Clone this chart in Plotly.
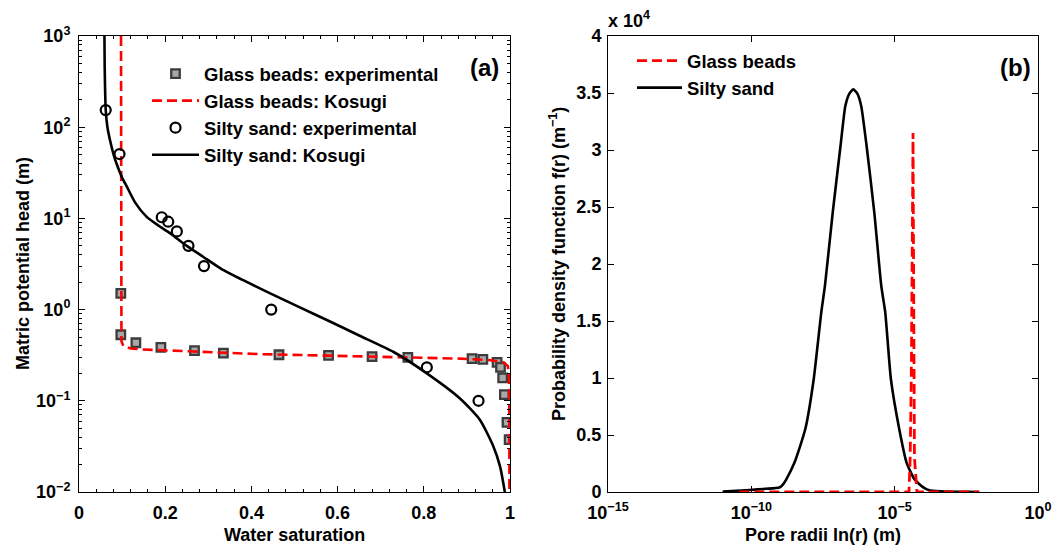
import plotly.graph_objects as go

W, H = 1062, 554

# ---------------- data: panel (a) ----------------
gb_exp_sat = [0.097, 0.097, 0.132, 0.19, 0.268, 0.335, 0.464, 0.579, 0.68, 0.763,
              0.912, 0.937, 0.970, 0.978, 0.983, 0.987, 0.993, 0.998]
gb_exp_head = [1.51, 0.53, 0.433, 0.385, 0.355, 0.334, 0.32, 0.315, 0.305, 0.30,
               0.29, 0.285, 0.264, 0.233, 0.178, 0.117, 0.058, 0.0375]

gb_kos_sat = [0.0975, 0.0975, 0.0985, 0.103, 0.12, 0.145, 0.265, 0.42, 0.575, 0.75,
              0.884, 0.95, 0.985, 0.995, 0.998, 0.9985, 0.9987]
gb_kos_head = [1000, 1.0, 0.45, 0.40, 0.375, 0.366, 0.345, 0.325, 0.313, 0.30,
               0.29, 0.28, 0.265, 0.24, 0.18, 0.05, 0.01]

ss_exp_sat = [0.062, 0.094, 0.192, 0.207, 0.227, 0.254, 0.29, 0.446, 0.807, 0.927]
ss_exp_head = [154, 50.8, 10.3, 9.2, 7.2, 5.0, 3.0, 1.0, 0.233, 0.10]

ss_kos_sat = [0.059, 0.0596, 0.062, 0.066, 0.072, 0.080, 0.087, 0.100, 0.111, 0.130,
              0.157, 0.185, 0.211, 0.25, 0.288, 0.33, 0.381, 0.446, 0.51, 0.575,
              0.65, 0.729, 0.807, 0.884, 0.93, 0.961, 0.977, 0.988]
ss_kos_head = [1000, 457, 155, 100, 72, 50.8, 40, 28, 22.3, 15,
               10.4, 8.3, 6.9, 5.0, 3.8, 2.8, 2.1, 1.49, 1.07, 0.77,
               0.52, 0.345, 0.20, 0.106, 0.062, 0.032, 0.019, 0.01]

# ---------------- data: panel (b) ----------------
ss_r = [1.0e-11, 8.7e-11, 3.2e-10, 9.5e-10, 1.26e-9, 1.66e-9, 3.2e-9, 7.6e-9, 1.5e-8,
        2.75e-8, 3.7e-8, 6.9e-8, 1.29e-7, 1.9e-7, 2.63e-7, 3.6e-7, 5.0e-7, 6.8e-7,
        1.05e-6, 1.95e-6, 3.4e-6, 4.7e-6, 7.4e-6, 1.45e-5, 2.6e-5, 4.9e-5, 1.0e-4,
        1.6e-4, 4.0e-4, 8.0e-4, 3.2e-3, 8.9e-3]
ss_f = [30, 180, 280, 390, 650, 1110, 2580, 5500, 9890,
        15740, 18100, 24500, 30350, 33860, 34950, 35320, 34950, 33860,
        30350, 24500, 18100, 15740, 9890, 5500, 2580, 1110, 400,
        150, 60, 30, 10, 0]

gb_r = [3.8e-11, 1.0e-5, 2.5e-5, 3.16e-5, 3.47e-5, 3.8e-5, 4.07e-5, 4.37e-5,
        4.47e-5, 4.57e-5, 4.9e-5, 6.0e-5, 8.9e-3]
gb_f = [0, 0, 0, 0, 3000, 10000, 20000, 31500,
        25000, 12000, 3000, 0, 0]

# tick labels
sat_ticks = [0, 0.2, 0.4, 0.6, 0.8, 1]
sat_ticktext = ["0", "0.2", "0.4", "0.6", "0.8", "1"]
head_ticks = [1e-2, 1e-1, 1e0, 1e1, 1e2, 1e3]
head_ticktext = ["10<sup>\u22122</sup>", "10<sup>\u22121</sup>", "10<sup>0</sup>",
                 "10<sup>1</sup>", "10<sup>2</sup>", "10<sup>3</sup>"]
r_ticks = [1e-15, 1e-10, 1e-5, 1]
r_ticktext = ["10<sup>\u221215</sup>", "10<sup>\u221210</sup>", "10<sup>\u22125</sup>", "10<sup>0</sup>"]
f_ticks = [0, 5000, 10000, 15000, 20000, 25000, 30000, 35000, 40000]
f_ticktext = ["0", "0.5", "1", "1.5", "2", "2.5", "3", "3.5", "4"]

FONT = "Liberation Sans"
RED = "#ff0000"
FS = 18


def px(x):
    return x / W


def py(y):
    return 1 - y / H


fig = go.Figure()

# panel (a)
fig.add_trace(go.Scatter(x=gb_exp_sat, y=gb_exp_head, mode="markers",
                         name="Glass beads: experimental",
                         marker=dict(symbol="square", size=8.5, color="#a8a8a8",
                                     line=dict(color="#3c3c3c", width=2.3)),
                         xaxis="x", yaxis="y", legend="legend"))
fig.add_trace(go.Scatter(x=gb_kos_sat, y=gb_kos_head, mode="lines",
                         name="Glass beads: Kosugi",
                         line=dict(color=RED, width=2.6, dash="10px,5px"),
                         xaxis="x", yaxis="y", legend="legend"))
fig.add_trace(go.Scatter(x=ss_exp_sat, y=ss_exp_head, mode="markers",
                         name="Silty sand: experimental",
                         marker=dict(symbol="circle-open", size=10, color="black",
                                     line=dict(color="black", width=2.2)),
                         xaxis="x", yaxis="y", legend="legend"))
fig.add_trace(go.Scatter(x=ss_kos_sat, y=ss_kos_head, mode="lines",
                         name="Silty sand: Kosugi",
                         line=dict(color="black", width=2.6, shape="spline", smoothing=0.6),
                         xaxis="x", yaxis="y", legend="legend"))

# panel (b)
fig.add_trace(go.Scatter(x=ss_r, y=ss_f, mode="lines", name="Silty sand",
                         line=dict(color="black", width=2.6, shape="spline", smoothing=0.5),
                         xaxis="x2", yaxis="y2", legend="legend2"))
fig.add_trace(go.Scatter(x=gb_r, y=gb_f, mode="lines", name="Glass beads",
                         line=dict(color=RED, width=2.8, dash="10px,5px"),
                         xaxis="x2", yaxis="y2", legend="legend2"))

tickfont = dict(family=FONT, size=FS, color="black", weight="bold")
axis_common = dict(showline=True, linecolor="black", linewidth=1, mirror="ticks",
                   ticks="inside", ticklen=6, tickcolor="black", tickwidth=1,
                   showgrid=False, zeroline=False, tickfont=tickfont,
                   automargin=False, tickmode="array")

minor_head = [k * 10.0 ** e for e in range(-2, 3) for k in range(2, 10)]

legend_font = dict(family=FONT, size=18.5, color="black", weight="bold")

fig.update_layout(
    width=W, height=H,
    margin=dict(l=0, r=0, t=0, b=0),
    paper_bgcolor="white", plot_bgcolor="white",
    font=dict(family=FONT, size=FS, color="black"),
    xaxis=dict(domain=[px(79), px(510)], range=[0, 1], anchor="y",
               tickvals=sat_ticks, ticktext=sat_ticktext, ticklabelstandoff=4,
               minor=dict(ticks="inside", ticklen=3, tickcolor="black", dtick=0.04, tick0=0),
               **axis_common),
    yaxis=dict(domain=[py(492), py(36)], type="log", range=[-2, 3], anchor="x",
               tickvals=head_ticks, ticktext=head_ticktext, ticklabelstandoff=4,
               minor=dict(ticks="inside", ticklen=3, tickcolor="black",
                          tickmode="array", tickvals=minor_head),
               **axis_common),
    xaxis2=dict(domain=[px(608), px(1038)], type="log", range=[-15, 0], anchor="y2",
                tickvals=r_ticks, ticktext=r_ticktext, layer="below traces",
                ticklabelstandoff=4, **axis_common),
    yaxis2=dict(domain=[py(492), py(36)], range=[0, 40000], anchor="x2",
                tickvals=f_ticks, ticktext=f_ticktext, ticklabelstandoff=2,
                **axis_common),
    legend=dict(x=px(147), y=py(55), xanchor="left", yanchor="top",
                bgcolor="rgba(0,0,0,0)", borderwidth=0, itemwidth=47,
                traceorder="normal", font=legend_font),
    legend2=dict(x=px(632), y=py(42), xanchor="left", yanchor="top",
                 bgcolor="rgba(0,0,0,0)", borderwidth=0, itemwidth=45,
                 traceorder="reversed", font=legend_font),
    showlegend=True,
)

ann_font = dict(family=FONT, size=FS, color="black", weight="bold")
annotations = [
    dict(text="Water saturation", x=px(294), y=py(535), xref="paper", yref="paper",
         showarrow=False, font=ann_font, xanchor="center", yanchor="middle"),
    dict(text="Matric potential head (m)", x=px(23), y=py(264), xref="paper", yref="paper",
         showarrow=False, font=ann_font, textangle=-90, xanchor="center", yanchor="middle"),
    dict(text="Pore radii ln(r) (m)", x=px(823), y=py(535), xref="paper", yref="paper",
         showarrow=False, font=ann_font, xanchor="center", yanchor="middle"),
    dict(text="Probability density function f(r) (m<sup>\u22121</sup>)", x=px(557), y=py(264),
         xref="paper", yref="paper", showarrow=False, font=ann_font, textangle=-90,
         xanchor="center", yanchor="middle"),
    dict(text="x 10<sup>4</sup>", x=px(606), y=py(20), xref="paper", yref="paper",
         showarrow=False, font=ann_font, xanchor="left", yanchor="middle"),
    dict(text="(a)", x=px(484), y=py(68), xref="paper", yref="paper",
         showarrow=False, font=dict(family=FONT, size=24, color="black", weight="bold"),
         xanchor="center", yanchor="middle"),
    dict(text="(b)", x=px(1015), y=py(68), xref="paper", yref="paper",
         showarrow=False, font=dict(family=FONT, size=24, color="black", weight="bold"),
         xanchor="center", yanchor="middle"),
]
fig.update_layout(annotations=annotations)

fig.write_html("out.html", config={"displayModeBar": False},
               post_script="document.body.style.margin='0';document.body.style.overflow='hidden';")
